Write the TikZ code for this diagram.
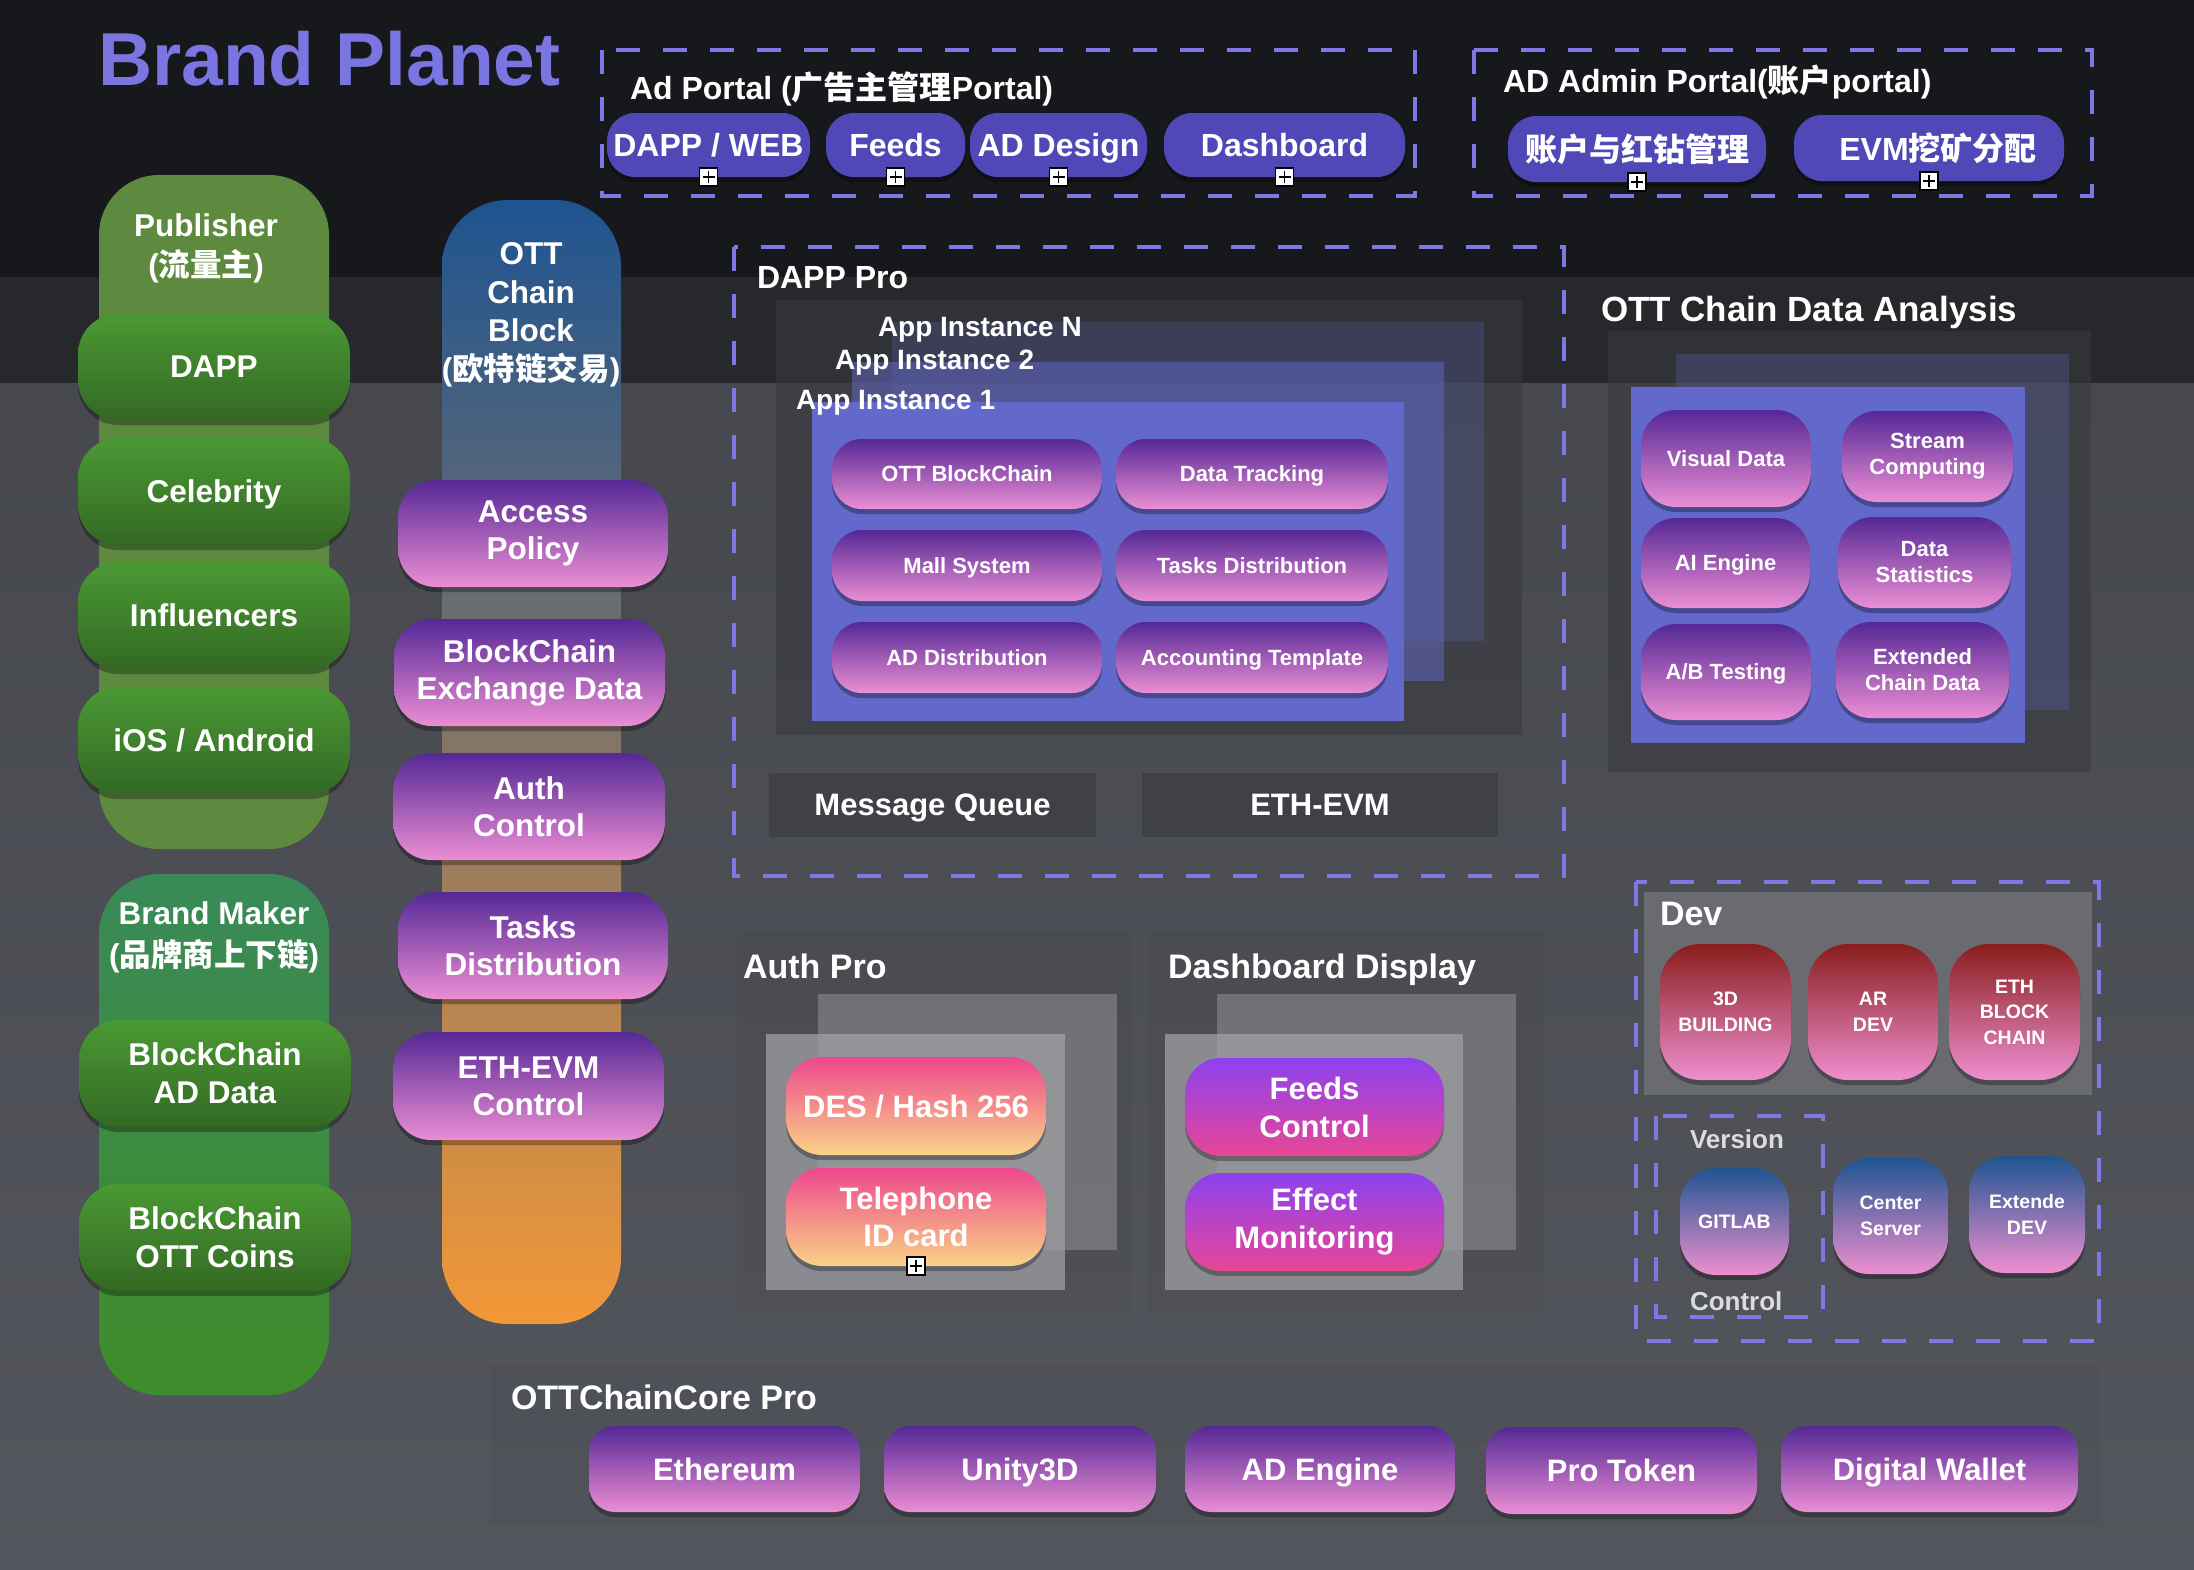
\documentclass[tikz,border=0pt]{standalone}
\usepackage{fontspec}
\setmainfont{Liberation Sans}
\newfontfamily\cjk{Noto Sans CJK SC}
\usetikzlibrary{shadows}
\definecolor{bgdark}{RGB}{23,24,27}
\definecolor{bgmid}{RGB}{39,40,44}
\definecolor{bglowtop}{RGB}{70,72,78}
\definecolor{bglowbot}{RGB}{84,86,93}
\definecolor{dashc}{RGB}{127,120,228}
\definecolor{titlec}{RGB}{123,117,226}
\definecolor{portalbtn}{RGB}{80,72,182}
\definecolor{panelc}{RGB}{57,58,62}
\definecolor{inst}{RGB}{98,105,202}
\definecolor{purT}{RGB}{85,40,150}
\definecolor{purB}{RGB}{235,142,212}
\definecolor{redT}{RGB}{138,30,28}
\definecolor{redB}{RGB}{238,143,208}
\definecolor{bluT}{RGB}{30,85,145}
\definecolor{pkT}{RGB}{238,72,140}
\definecolor{orB}{RGB}{250,210,135}
\definecolor{viT}{RGB}{140,65,240}
\definecolor{viB}{RGB}{232,70,150}
\definecolor{grT}{RGB}{74,153,52}
\definecolor{grB}{RGB}{52,105,36}
\definecolor{pubc}{RGB}{94,138,63}
\definecolor{bmT}{RGB}{58,138,88}
\definecolor{bmB}{RGB}{62,140,42}
\definecolor{ocT}{RGB}{30,84,145}
\definecolor{ocB}{RGB}{242,152,55}
\definecolor{devpanel}{RGB}{106,107,112}
\definecolor{vtext}{RGB}{220,220,220}
\definecolor{backc}{RGB}{150,151,155}
\definecolor{frontc}{RGB}{159,160,164}
\newcommand\fsz[2]{\fontsize{#1}{#2}\selectfont\bfseries}
\newcommand\bx[7]{\node[#1, minimum width={#5pt-#3pt}, minimum height={#6pt-#4pt}] (#2) at ({(#3+#5)/2},{(#4+#6)/2}) {#7};}
\begin{document}
\begin{tikzpicture}[x=1pt,y=-1pt,
  btn/.style={inner sep=0pt, outer sep=0pt, text=white, align=center},
  one/.style={text depth=0pt},
  sh/.style={drop shadow={shadow xshift=0pt,shadow yshift=-5pt,opacity=0.3,fill=black}},
  portal/.style={btn, sh, fill=portalbtn, rounded corners=28pt, font=\fsz{32}{38}},
  purs/.style={btn, sh, top color=purT, bottom color=purB, rounded corners=30pt, font=\fsz{22}{26}},
  purm/.style={btn, sh, top color=purT, bottom color=purB, rounded corners=35pt, font=\fsz{22}{26}},
  purl/.style={btn, sh, top color=purT, bottom color=purB, rounded corners=38pt, font=\fsz{31.5}{37}},
  purc/.style={btn, sh, one, top color=purT, bottom color=purB, rounded corners=26pt, font=\fsz{31}{37}},
  red/.style={btn, sh, top color=redT, bottom color=redB, rounded corners=40pt, font=\fsz{19.5}{25.5}},
  blu/.style={btn, sh, top color=bluT, bottom color=redB, rounded corners=36pt, font=\fsz{19.5}{25.5}},
  po/.style={btn, sh, top color=pkT, bottom color=orB, rounded corners=36pt, font=\fsz{31}{37.5}},
  vp/.style={btn, sh, top color=viT, bottom color=viB, rounded corners=36pt, font=\fsz{31}{38}},
  grn/.style={btn, sh, top color=grT, bottom color=grB, rounded corners=40pt, font=\fsz{31.5}{38}},
  dk/.style={btn, one, fill=panelc, fill opacity=0.6, text opacity=1, font=\fsz{31}{37}},
  lab/.style={inner sep=0pt, outer sep=0pt, text=white, anchor=base west},
  dbox/.style={draw=dashc, line width=4pt, dash pattern=on 24pt off 23pt},
  mk/.style={draw=black, fill=white, line width=1.5pt, minimum size=18pt, inner sep=0pt,
    path picture={\draw[line width=1.4pt] ([yshift=-3pt]path picture bounding box.north) -- ([yshift=3pt]path picture bounding box.south) ([xshift=3pt]path picture bounding box.west) -- ([xshift=-3pt]path picture bounding box.east);}}
]
\useasboundingbox (0,0) rectangle (2194,1569);
% background
\fill[bgdark] (0,0) rectangle (2194,277);
\fill[bgmid] (0,277) rectangle (2194,383);
\shade[top color=bglowtop, bottom color=bglowbot] (0,383) rectangle (2194,1569);

% title
\node[lab, text=titlec, font=\fsz{75}{80}] (title) at (98,85) {Brand Planet};

% Ad Portal
\draw[dbox] (602,50) rectangle (1415,196);
\node[lab, font=\fsz{32}{38}] (adp) at (630,99) {Ad Portal ({\cjk 广告主管理}Portal)};
\bx{portal,one}{dw}{607}{113}{810}{177}{DAPP / WEB}
\bx{portal,one}{fd}{826}{113}{965}{177}{Feeds}
\bx{portal,one}{add}{970}{113}{1147}{177}{AD Design}
\bx{portal,one}{dsb}{1164}{113}{1405}{177}{Dashboard}
\node[mk] (m1) at (dw.south) {};
\node[mk] (m2) at (fd.south) {};
\node[mk] (m3) at (add.south) {};
\node[mk] (m4) at (dsb.south) {};

% AD Admin Portal
\draw[dbox] (1474,50) rectangle (2092,196);
\node[lab, font=\fsz{32}{38}] (adm) at (1503,92) {AD Admin Portal({\cjk 账户}portal)};
\bx{portal}{acc}{1508}{116}{1766}{182}{{\cjk 账户与红钻管理}}
\bx{portal}{evm}{1794}{115}{2064}{181}{\hspace*{18pt}EVM{\cjk 挖矿分配}}
\node[mk] (m5) at (acc.south) {};
\node[mk] (m6) at (evm.south) {};

% left column: Publisher
\fill[pubc, rounded corners=60pt] (99,175) rectangle (329,849);
\node[btn, font=\fsz{31.5}{40}] (pubt) at (206,248) {Publisher\\({\cjk 流量主})};
\bx{grn,one}{dapp}{78}{314}{350}{420}{DAPP}
\bx{grn,one}{cel}{78}{438}{350}{545}{Celebrity}
\bx{grn,one}{inf}{78}{562}{350}{669}{Influencers}
\bx{grn,one}{ios}{78}{687}{350}{794}{iOS / Android}

% Brand Maker
\shade[top color=bmT, bottom color=bmB, rounded corners=60pt] (99,874) rectangle (329,1395);
\node[btn, font=\fsz{31.5}{42}] (bmt) at (214,937) {Brand Maker\\({\cjk 品牌商上下链})};
\bx{grn}{bad}{79}{1020}{351}{1127}{BlockChain\\AD Data}
\bx{grn}{boc}{79}{1184}{351}{1291}{BlockChain\\OTT Coins}

% OTT Chain Block column
\shade[top color=ocT, bottom color=ocB, rounded corners=66pt] (442,200) rectangle (621,1324);
\node[btn, font=\fsz{31.5}{38.5}] (ocb) at (531,315) {OTT\\Chain\\Block\\({\cjk 欧特链交易})};
\bx{purl}{ap}{398}{480}{668}{587}{Access\\Policy}
\bx{purl}{bed}{394}{619}{665}{726}{BlockChain\\Exchange Data}
\bx{purl}{ac}{393}{753}{665}{860}{Auth\\Control}
\bx{purl}{tds}{398}{892}{668}{999}{Tasks\\Distribution}
\bx{purl}{eec}{393}{1032}{664}{1140}{ETH-EVM\\Control}

% DAPP Pro
\draw[dbox] (734,247) rectangle (1564,876);
\node[lab, font=\fsz{32}{38}] (dpp) at (757,288) {DAPP Pro};
\fill[panelc, fill opacity=0.6] (776,300) rectangle (1522,735);
\fill[inst, fill opacity=0.22] (892,322) rectangle (1484,641);
\fill[inst, fill opacity=0.5] (852,362) rectangle (1444,681);
\fill[inst] (812,402) rectangle (1404,721);
\node[lab, font=\fsz{28}{32}] (ain) at (878,336) {App Instance N};
\node[lab, font=\fsz{28}{32}] (ai2) at (835,369) {App Instance 2};
\node[lab, font=\fsz{28}{32}] (ai1) at (796,409) {App Instance 1};
\bx{purs,one}{ob}{832}{439}{1102}{509}{OTT BlockChain}
\bx{purs,one}{dt}{1116}{439}{1388}{509}{Data Tracking}
\bx{purs,one}{ms}{832}{530}{1102}{601}{Mall System}
\bx{purs,one}{td}{1116}{530}{1388}{601}{Tasks Distribution}
\bx{purs,one}{adi}{832}{622}{1102}{693}{AD Distribution}
\bx{purs,one}{act}{1116}{622}{1388}{693}{Accounting Template}
\bx{dk}{mq}{769}{773}{1096}{837}{Message Queue}
\bx{dk}{ee}{1142}{773}{1498}{837}{ETH-EVM}

% OTT Chain Data Analysis
\node[lab, font=\fsz{35}{40}] (oda) at (1601,321) {OTT Chain Data Analysis};
\fill[panelc, fill opacity=0.6] (1608,331) rectangle (2091,772);
\fill[inst, fill opacity=0.25] (1676,354) rectangle (2069,710);
\fill[inst] (1631,387) rectangle (2025,743);
\bx{purm,one}{vd}{1641}{410}{1811}{507}{Visual Data}
\bx{purm}{sc}{1842}{411}{2013}{502}{Stream\\Computing}
\bx{purm,one}{aie}{1641}{518}{1810}{608}{AI Engine}
\bx{purm}{dst}{1838}{517}{2011}{608}{Data\\Statistics}
\bx{purm,one}{abt}{1641}{624}{1811}{720}{A/B Testing}
\bx{purm}{ecd}{1836}{622}{2009}{718}{Extended\\Chain Data}

% Dev
\draw[dbox] (1636,882) rectangle (2099,1341);
\fill[devpanel] (1644,892) rectangle (2092,1095);
\node[lab, font=\fsz{34}{40}] (dev) at (1660,925) {Dev};
\bx{red}{b3}{1660}{944}{1791}{1080}{3D\\BUILDING}
\bx{red}{ard}{1808}{944}{1938}{1080}{AR\\DEV}
\bx{red}{ebc}{1949}{944}{2080}{1080}{ETH\\BLOCK\\CHAIN}
\draw[dbox] (1656,1116) rectangle (1823,1317);
\node[lab, text=vtext, font=\fsz{26}{30}] (ver) at (1690,1148) {Version};
\node[lab, text=vtext, font=\fsz{26}{30}] (ctl) at (1690,1310) {Control};
\bx{blu,one}{gl}{1680}{1168}{1789}{1275}{GITLAB}
\bx{blu}{cs}{1833}{1158}{1948}{1274}{Center\\Server}
\bx{blu}{ed}{1969}{1156}{2085}{1273}{Extende\\DEV}

% Auth Pro
\fill[black, fill opacity=0.035] (737,932) rectangle (1130,1313);
\node[lab, font=\fsz{34}{40}] (aup) at (743,978) {Auth Pro};
\fill[backc, fill opacity=0.5] (818,994) rectangle (1117,1250);
\fill[frontc, fill opacity=0.75] (766,1034) rectangle (1065,1290);
\bx{po,one}{des}{786}{1057}{1046}{1155}{DES / Hash 256}
\bx{po}{tel}{786}{1168}{1046}{1266}{Telephone\\ID card}
\node[mk] (m7) at (tel.south) {};

% Dashboard Display
\fill[black, fill opacity=0.035] (1148,932) rectangle (1544,1313);
\node[lab, font=\fsz{34}{40}] (ddp) at (1168,978) {Dashboard Display};
\fill[backc, fill opacity=0.5] (1217,994) rectangle (1516,1250);
\fill[frontc, fill opacity=0.75] (1165,1034) rectangle (1463,1290);
\bx{vp}{fc}{1185}{1058}{1444}{1156}{Feeds\\Control}
\bx{vp}{em}{1185}{1173}{1444}{1271}{Effect\\Monitoring}

% OTTChainCore Pro
\fill[black, fill opacity=0.03] (490,1364) rectangle (2100,1525);
\node[lab, font=\fsz{34}{40}] (ccp) at (511,1409) {OTTChainCore Pro};
\bx{purc}{eth}{589}{1426}{860}{1512}{Ethereum}
\bx{purc}{u3d}{884}{1426}{1156}{1512}{Unity3D}
\bx{purc}{ade}{1185}{1426}{1455}{1512}{AD Engine}
\bx{purc}{ptk}{1486}{1427}{1757}{1514}{Pro Token}
\bx{purc}{dwl}{1781}{1426}{2078}{1512}{Digital Wallet}
\end{tikzpicture}
\end{document}
